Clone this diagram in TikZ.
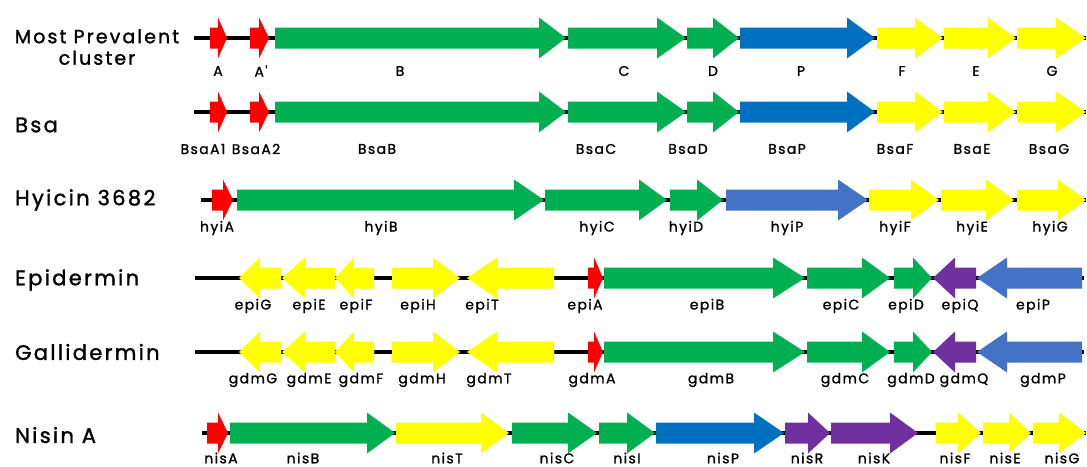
\documentclass[tikz,border=0pt]{standalone}
\usepackage{fontspec}
\setmainfont{Poppins}
\newfontfamily\labfont{Poppins}[LetterSpace=10,FakeBold=1.2,Ligatures=TeXOff]
\newfontfamily\ttlfont{Poppins}[LetterSpace=11,FakeBold=1.4]

\definecolor{gGreen}{HTML}{00B050}
\definecolor{gRed}{HTML}{FF0000}
\definecolor{gYellow}{HTML}{FFFF00}
\definecolor{gBlue}{HTML}{0070C0}
\definecolor{gLight}{HTML}{4472C4}
\definecolor{gPurple}{HTML}{7030A0}

\tikzset{
  backbone/.style={line width=3.5pt,black},
  lab/.style={font=\labfont\fontsize{14}{16}\selectfont,inner sep=0pt,anchor=center},
  ttl/.style={font=\ttlfont\fontsize{21}{24}\selectfont,inner sep=0pt},
  ttlsmall/.style={font=\ttlfont\fontsize{19}{21.5}\selectfont,inner sep=0pt},
}

% gene pointing right: start, tip, head length, axis y, colour
\newcommand\gR[5]{\fill[#5] (#1,#4-10.5) -- (#2-#3,#4-10.5) -- (#2-#3,#4-20.5) -- (#2,#4)
  -- (#2-#3,#4+20.5) -- (#2-#3,#4+10.5) -- (#1,#4+10.5) -- cycle;}
% gene pointing left: tip, end, head length, axis y, colour
\newcommand\gL[5]{\fill[#5] (#1,#4) -- (#1+#3,#4-20.5) -- (#1+#3,#4-10.5) -- (#2,#4-10.5)
  -- (#2,#4+10.5) -- (#1+#3,#4+10.5) -- (#1+#3,#4+20.5) -- cycle;}

\begin{document}
\begin{tikzpicture}[x=1pt,y=-1pt]
\useasboundingbox (0,0) rectangle (1087,466);

% ---------------- Most prevalent cluster
\node[ttlsmall,align=center] (t1) at (97,47) {Most Prevalent\\cluster};
\coordinate (l1a) at (194,38); \coordinate (l1b) at (1086,38);
\draw[backbone] (l1a) -- (l1b);
\gR{210}{227}{9}{38}{gRed}
\gR{250}{269}{10}{38}{gRed}
\gR{275}{566}{27}{38}{gGreen}
\gR{568}{686}{29}{38}{gGreen}
\gR{687}{739}{26}{38}{gGreen}
\gR{740}{875}{28}{38}{gBlue}
\gR{877}{943}{28}{38}{gYellow}
\gR{944}{1016}{28}{38}{gYellow}
\gR{1017}{1086}{30}{38}{gYellow}
\foreach \n/\x in {A/218,A'/261,B/400,C/624,D/713,P/801,F/902,E/976,G/1052}
  \node[lab] (r1\n) at (\x,71) {\n};

% ---------------- Bsa
\node[ttl,anchor=west] (t2) at (15,125) {Bsa};
\coordinate (l2a) at (194,112); \coordinate (l2b) at (1086,112);
\draw[backbone] (l2a) -- (l2b);
\gR{210}{227}{9}{112}{gRed}
\gR{250}{269}{10}{112}{gRed}
\gR{275}{566}{27}{112}{gGreen}
\gR{568}{686}{29}{112}{gGreen}
\gR{687}{739}{26}{112}{gGreen}
\gR{740}{875}{28}{112}{gBlue}
\gR{877}{943}{28}{112}{gYellow}
\gR{944}{1016}{28}{112}{gYellow}
\gR{1017}{1086}{30}{112}{gYellow}
\foreach \n/\x in {BsaA1/203,BsaA2/256,BsaB/377,BsaC/596,BsaD/688,BsaP/787,BsaF/895,BsaE/972,BsaG/1049}
  \node[lab] (\n) at (\x,149) {\n};

% ---------------- Hyicin 3682
\node[ttl,anchor=west] (t3) at (15,200) {Hyicin 3682};
\coordinate (l3a) at (201,200); \coordinate (l3b) at (1086,200);
\draw[backbone] (l3a) -- (l3b);
\gR{212}{233}{10}{200}{gRed}
\gR{237}{544}{30}{200}{gGreen}
\gR{545}{667}{28}{200}{gGreen}
\gR{670}{723}{26}{200}{gGreen}
\gR{726}{868}{30}{200}{gLight}
\gR{869}{939}{28}{200}{gYellow}
\gR{941}{1014}{28}{200}{gYellow}
\gR{1017}{1086}{28}{200}{gYellow}
\foreach \n/\x in {hyiA/217,hyiB/381,hyiC/597,hyiD/686,hyiP/787,hyiF/895,hyiE/972,hyiG/1050}
  \node[lab] (\n) at (\x,228) {\n};

% ---------------- Epidermin
\node[ttl,anchor=west] (t4) at (15,280) {Epidermin};
\coordinate (l4a) at (195,278); \coordinate (l4b) at (1084,278);
\draw[backbone] (l4a) -- (l4b);
\gL{239}{281}{21}{278}{gYellow}
\gL{282}{335}{23}{278}{gYellow}
\gL{335}{374}{19}{278}{gYellow}
\gR{392}{460}{27}{278}{gYellow}
\gL{467}{554}{30}{278}{gYellow}
\gR{588}{603}{9}{278}{gRed}
\gR{604}{805}{32}{278}{gGreen}
\gR{807}{890}{28}{278}{gGreen}
\gR{894}{932}{19}{278}{gGreen}
\gL{933}{976}{22}{278}{gPurple}
\gL{977}{1082}{30}{278}{gLight}
\foreach \n/\x in {epiG/253,epiE/309,epiF/356,epiH/418,epiT/482,epiA/585,epiB/707,epiC/841,epiD/906,epiQ/960,epiP/1033}
  \node[lab] (\n) at (\x,306) {\n};

% ---------------- Gallidermin
\node[ttl,anchor=west] (t5) at (15,352) {Gallidermin};
\coordinate (l5a) at (195,352); \coordinate (l5b) at (1084,352);
\draw[backbone] (l5a) -- (l5b);
\gL{239}{281}{21}{352}{gYellow}
\gL{282}{335}{23}{352}{gYellow}
\gL{335}{374}{19}{352}{gYellow}
\gR{392}{460}{27}{352}{gYellow}
\gL{467}{554}{30}{352}{gYellow}
\gR{588}{603}{9}{352}{gRed}
\gR{604}{805}{32}{352}{gGreen}
\gR{807}{890}{28}{352}{gGreen}
\gR{894}{932}{19}{352}{gGreen}
\gL{933}{976}{22}{352}{gPurple}
\gL{977}{1082}{30}{352}{gLight}
\foreach \n/\x in {gdmG/253,gdmE/309,gdmF/361,gdmH/422,gdmT/489,gdmA/592,gdmB/711,gdmC/845,gdmD/911,gdmQ/964,gdmP/1043}
  \node[lab] (\n) at (\x,380) {\n};

% ---------------- Nisin A
\node[ttl,anchor=west] (t6) at (15,435) {Nisin A};
\coordinate (l6a) at (202,433); \coordinate (l6b) at (1086,433);
\draw[backbone] (l6a) -- (l6b);
\gR{207}{228}{10}{433}{gRed}
\gR{230}{395}{28}{433}{gGreen}
\gR{396}{509}{28}{433}{gYellow}
\gR{512}{597}{29}{433}{gGreen}
\gR{599}{655}{28}{433}{gGreen}
\gR{656}{784}{30}{433}{gBlue}
\gR{785}{830}{22}{433}{gPurple}
\gR{831}{918}{28}{433}{gPurple}
\gR{936}{981}{23}{433}{gYellow}
\gR{983}{1031}{22}{433}{gYellow}
\gR{1033}{1086}{27}{433}{gYellow}
\foreach \n/\x in {nisA/221,nisB/303,nisT/447,nisC/557,nisI/627,nisP/723,nisR/807,nisK/874,nisF/955,nisE/1005,nisG/1062}
  \node[lab] (\n) at (\x,458) {\n};
\end{tikzpicture}
\end{document}
